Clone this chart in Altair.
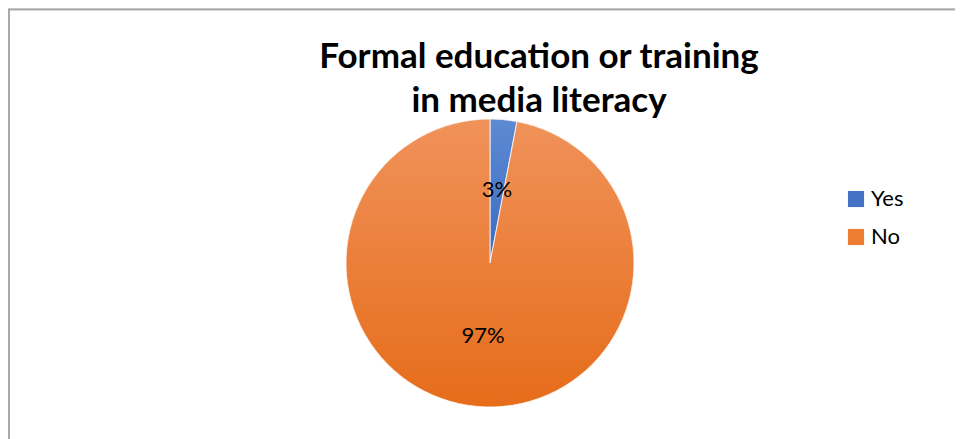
import altair as alt
import pandas as pd

categories = ["Yes", "No"]
values = [3, 97]
labels = ["3%", "97%"]
title_lines = ["Formal education or training", "in media literacy"]
solid_colors = ["#4472C4", "#ED7D31"]
grad_top = ["#5E8AD2", "#F0925A"]
grad_bottom = ["#3C6BC0", "#E66C1A"]

df = pd.DataFrame({"category": categories, "value": values, "label": labels})
df["end"] = df["value"].cumsum()
df["start"] = df["end"] - df["value"]
df["mid"] = (df["start"] + df["end"]) / 2

W, H = 947, 431
CX, CY, R = 482, 255, 144
FONT = "Lato"

tscale = alt.Scale(domain=[0, 100], zero=True)
base = alt.Chart(df)

legend_layer = base.mark_arc(radius=R).encode(
    theta=alt.Theta("start:Q", scale=tscale),
    theta2="end:Q",
    color=alt.Color(
        "category:N",
        scale=alt.Scale(domain=categories, range=solid_colors),
        legend=alt.Legend(
            title=None, orient="none", legendX=837, legendY=180,
            symbolType="square", symbolSize=260, symbolStrokeWidth=0,
            labelFontSize=22, labelFont=FONT, labelColor="#000000",
            rowPadding=16, labelOffset=4,
        ),
    ),
    x=alt.value(CX), y=alt.value(CY),
)

grad_layers = []
for i, cat in enumerate(categories):
    g = alt.Gradient(
        gradient="linear",
        stops=[alt.GradientStop(color=grad_top[i], offset=0),
               alt.GradientStop(color=grad_bottom[i], offset=1)],
        x1=0, x2=0, y1=0, y2=1,
    )
    grad_layers.append(
        base.transform_filter(alt.datum.category == cat)
        .mark_arc(radius=R, fill=g, stroke="#ffffff", strokeWidth=0.8)
        .encode(
            theta=alt.Theta("start:Q", scale=tscale),
            theta2="end:Q",
            x=alt.value(CX), y=alt.value(CY),
        )
    )

text_layer = base.mark_text(radius=73, fontSize=22, font=FONT, color="#000000").encode(
    theta=alt.Theta("mid:Q", scale=tscale),
    text="label:N",
    x=alt.value(CX), y=alt.value(CY),
)

title1 = alt.Chart(pd.DataFrame({"line": [title_lines[0]]})).mark_text(
    fontSize=35, fontWeight="bold", font=FONT, color="#000000", baseline="alphabetic"
).encode(text="line:N", x=alt.value(531), y=alt.value(60))
title2 = alt.Chart(pd.DataFrame({"line": [title_lines[1]]})).mark_text(
    fontSize=35, fontWeight="bold", font=FONT, color="#000000", baseline="alphabetic"
).encode(text="line:N", x=alt.value(531), y=alt.value(104))

border_top = alt.Chart(df).mark_rule(color="#A6A6A6", strokeWidth=1.5).encode(
    x=alt.value(0), x2=alt.value(W), y=alt.value(1.5)
)
border_left = alt.Chart(df).mark_rule(color="#A6A6A6", strokeWidth=1.5).encode(
    x=alt.value(1), y=alt.value(1), y2=alt.value(H)
)

chart = alt.layer(
    legend_layer, *grad_layers, text_layer, title1, title2, border_top, border_left
).properties(
    width=W, height=H, autosize=alt.AutoSizeParams(type="none"), padding=0
).configure_view(stroke=None).configure(background="#ffffff")

chart.save("out.html", embed_options={"renderer": "svg", "actions": False})
